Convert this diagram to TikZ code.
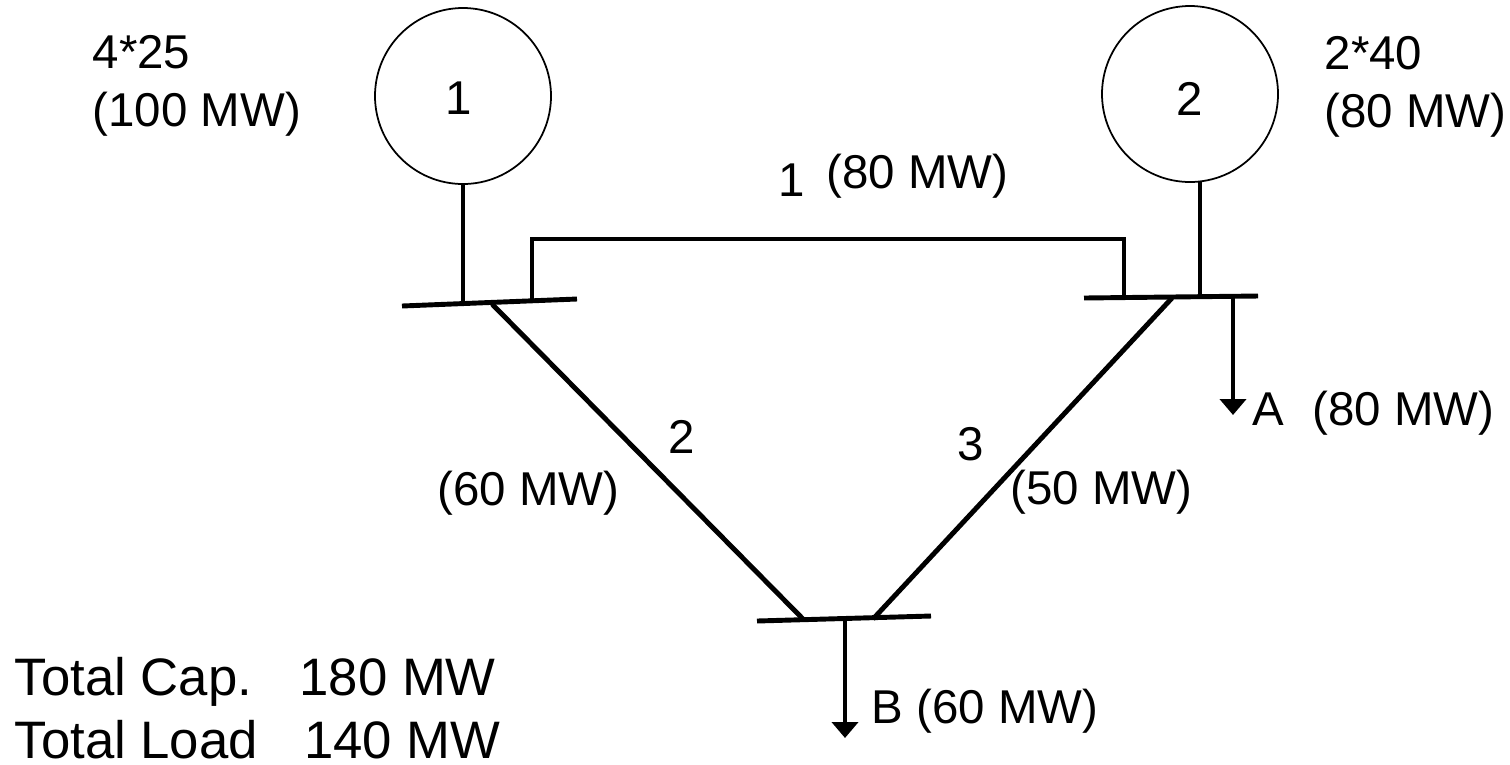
\documentclass[tikz,border=0pt]{standalone}
\usepackage{fontspec}
\setmainfont{Liberation Sans}
\usetikzlibrary{arrows.meta}
\tikzset{
  gen/.style={draw=black,circle,minimum size=1.76cm,inner sep=0pt,line width=0.5pt},
  lbl/.style={text=black,inner sep=0pt,align=left,font=\fontsize{13.5pt}{16.5pt}\selectfont},
  totals/.style={text=black,inner sep=0pt,align=left,font=\fontsize{15pt}{18pt}\selectfont},
  busbar/.style={draw=black,line width=1.4pt},
  feeder/.style={draw=black,line width=1.4pt},
  tie/.style={draw=black,line width=1.1pt},
  loadarrow/.style={draw=black,line width=1.4pt,-{Triangle[length=1.6mm,width=2.6mm]}}
}
\begin{document}
\begin{tikzpicture}[y=-1cm]
\useasboundingbox (0,0) rectangle (15.1,7.64);

% generators
\node[gen] (gen1) at (4.63,0.96) {};
\node[gen] (gen2) at (11.90,0.94) {};
\node[lbl] (num1) at (4.59,0.98) {1};
\node[lbl] (num2) at (11.90,0.99) {2};

% bus bars
\coordinate (bus1l) at (4.02,3.06);
\coordinate (bus1r) at (5.77,2.99);
\coordinate (bus2l) at (10.84,2.98);
\coordinate (bus2r) at (12.58,2.96);
\coordinate (bus3l) at (7.57,6.21);
\coordinate (bus3r) at (9.31,6.16);
\draw[busbar] (bus1l) -- (bus1r);
\draw[busbar] (bus2l) -- (bus2r);
\draw[busbar] (bus3l) -- (bus3r);

% generator leads
\coordinate (tap1) at (4.63,3.01);
\coordinate (tap2) at (12.00,2.97);
\coordinate (top2) at (12.00,1.82);
\draw[feeder] (gen1.south) -- (tap1);
\draw[feeder] (top2) -- (tap2);

% line 1
\coordinate (l1a) at (5.32,3.00);
\coordinate (l1b) at (5.32,2.39);
\coordinate (l1c) at (11.24,2.39);
\coordinate (l1d) at (11.24,2.97);
\draw[tie] (l1a) -- (l1b) -- (l1c) -- (l1d);

% lines 2 and 3
\coordinate (l2a) at (4.92,3.04);
\coordinate (l2b) at (8.03,6.19);
\coordinate (l3a) at (11.72,2.98);
\coordinate (l3b) at (8.73,6.19);
\draw[feeder] (l2a) -- (l2b);
\draw[feeder] (l3a) -- (l3b);

% loads
\coordinate (loadAa) at (12.33,2.97);
\coordinate (loadAb) at (12.33,4.15);
\coordinate (loadBa) at (8.45,6.19);
\coordinate (loadBb) at (8.45,7.38);
\draw[loadarrow] (loadAa) -- (loadAb);
\draw[loadarrow] (loadBa) -- (loadBb);

% labels
\node[lbl,anchor=west] (cap1) at (0.92,0.86) {4*25\\(100 MW)};
\node[lbl,anchor=west] (cap2) at (13.24,0.87) {2*40\\(80 MW)};
\node[lbl,anchor=west] (name1) at (7.78,1.80) {1};
\node[lbl,anchor=west] (rate1) at (8.26,1.76) {(80 MW)};
\node[lbl,anchor=west] (name2) at (6.68,4.37) {2};
\node[lbl,anchor=west] (rate2) at (4.37,4.93) {(60 MW)};
\node[lbl,anchor=west] (name3) at (9.57,4.44) {3};
\node[lbl,anchor=west] (rate3) at (10.10,4.92) {(50 MW)};
\node[lbl,anchor=west] (loadA) at (12.52,4.13) {A\hspace{0.32em} (80 MW)};
\node[lbl,anchor=west] (loadB) at (8.71,7.11) {B (60 MW)};
\node[totals,anchor=west] (total) at (0.14,7.08) {Total Cap.\hspace{0.9em}180 MW\\Total Load\hspace{0.88em}140 MW};
\end{tikzpicture}
\end{document}
